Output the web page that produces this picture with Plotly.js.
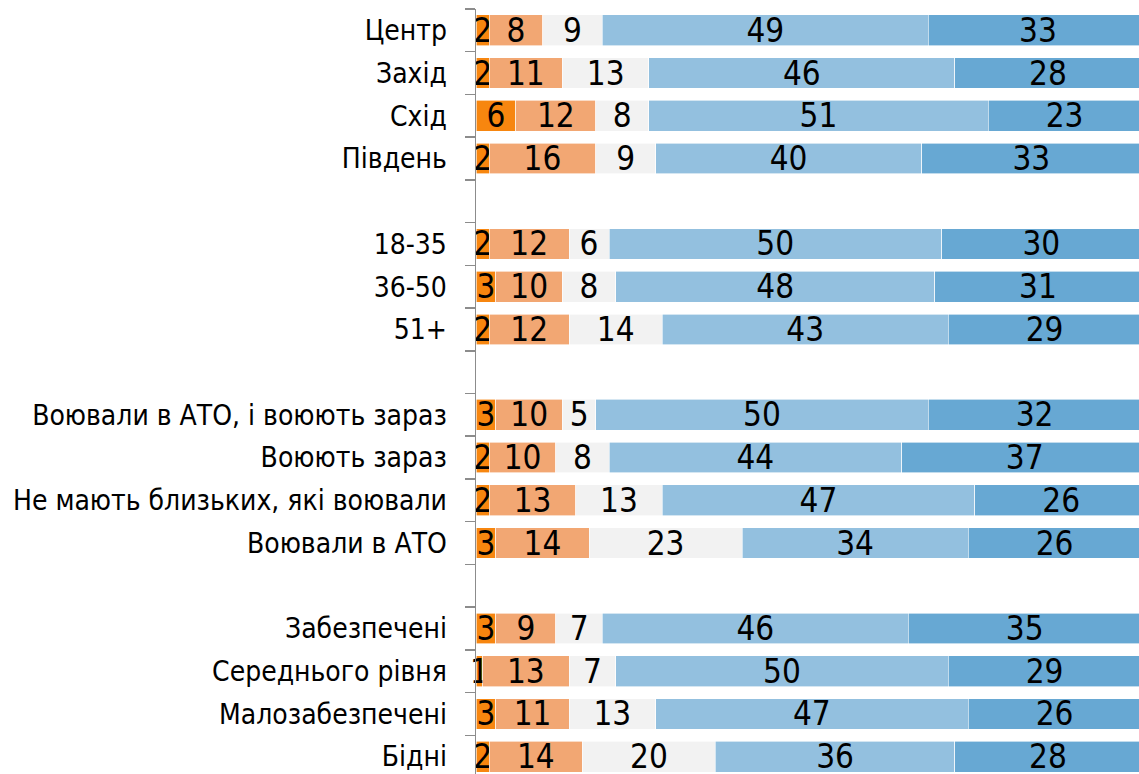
<!DOCTYPE html>
<html>
<head>
<meta charset="utf-8">
<script src="https://cdn.plot.ly/plotly-3.0.1.min.js"></script>
<style>
  html, body { margin: 0; padding: 0; background: #ffffff; overflow: hidden; width: 1139px; height: 774px; }
  #chart { width: 1150px; height: 778px; }
</style>
</head>
<body>
<div id="chart"></div>
<script>
// Categories top to bottom; blank strings are the empty spacer rows between groups
const categories = [
  "Центр", "Захід", "Схід", "Південь",
  " ",
  "18-35", "36-50", "51+",
  "  ",
  "Воювали в АТО, і воюють зараз", "Воюють зараз", "Не мають близьких, які воювали", "Воювали в АТО",
  "   ",
  "Забезпечені", "Середнього рівня", "Малозабезпечені", "Бідні"
];

const series1 = [2, 2, 6, 2, null, 2, 3, 2, null, 3, 2, 2, 3, null, 3, 1, 3, 2];
const series2 = [8, 11, 12, 16, null, 12, 10, 12, null, 10, 10, 13, 14, null, 9, 13, 11, 14];
const series3 = [9, 13, 8, 9, null, 6, 8, 14, null, 5, 8, 13, 23, null, 7, 7, 13, 20];
const series4 = [49, 46, 51, 40, null, 50, 48, 43, null, 50, 44, 47, 34, null, 46, 50, 47, 36];
const series5 = [33, 28, 23, 33, null, 30, 31, 29, null, 32, 37, 26, 26, null, 35, 29, 26, 28];

const colors = ["#F7860F", "#F2A773", "#F2F2F2", "#93C0DF", "#67A8D3"];
const allSeries = [series1, series2, series3, series4, series5];

const FONT = "'Liberation Sans Narrow', 'Arial Narrow', 'DejaVu Sans Condensed', sans-serif";

const traces = allSeries.map((vals, i) => ({
  type: "bar",
  orientation: "h",
  y: categories,
  x: vals,
  text: vals.map(v => (v === null ? "" : String(v))),
  textposition: "inside",
  insidetextanchor: "middle",
  constraintext: "none",
  textangle: 0,
  cliponaxis: false,
  textfont: { family: FONT, size: 33, color: "#000000" },
  marker: { color: colors[i], line: { color: "rgba(255,255,255,0.8)", width: 0.75 } },
  hoverinfo: "skip",
  showlegend: false
}));

const layout = {
  width: 1150,
  height: 778,
  margin: { l: 476, r: 0, t: 9, b: 0, pad: 0 },
  paper_bgcolor: "#ffffff",
  plot_bgcolor: "#ffffff",
  barmode: "stack",
  bargap: 0.28,
  showlegend: false,
  xaxis: {
    visible: false,
    range: [0, 101.35],
    fixedrange: true
  },
  yaxis: {
    type: "category",
    categoryorder: "array",
    categoryarray: categories,
    range: [17.5, -0.5],
    showline: true,
    linecolor: "#8C8C8C",
    linewidth: 1.5,
    ticks: "outside",
    tickson: "boundaries",
    ticklen: 10,
    tickwidth: 1.5,
    tickcolor: "#8C8C8C",
    ticklabelstandoff: 22,
    showgrid: false,
    zeroline: false,
    tickfont: { family: FONT, size: 28, color: "#000000" },
    fixedrange: true
  }
};

Plotly.newPlot("chart", traces, layout, { displayModeBar: false, staticPlot: true });
</script>
</body>
</html>
